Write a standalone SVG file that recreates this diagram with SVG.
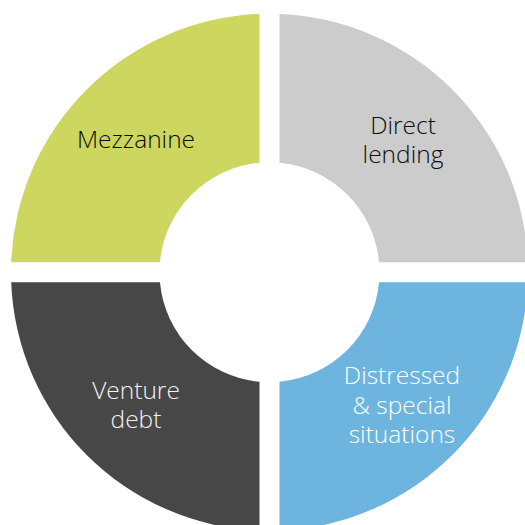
<svg xmlns="http://www.w3.org/2000/svg" width="525" height="525" viewBox="0 0 525 525">
  <style>
    .lbl { font-family: "Open Sans", "Noto Sans", "Liberation Sans", sans-serif; font-size: 24.5px; font-weight: 300; text-anchor: middle; }
    .dark { fill: #0d0d0d; }
    .light { fill: #f2f2f2; }
    .white { fill: #ffffff; }
  </style>
  <rect width="525" height="525" fill="#ffffff"/>
  <!-- Donut split into four quarters by 20px cross gaps; centre (269.5, 272.25), R 258.5, r 110 -->
  <g id="mezzanine">
    <path d="M259.5 13.94 A258.5 258.5 0 0 0 11.19 262.25 L159.96 262.25 A110 110 0 0 1 259.5 162.71 Z" fill="#cdd65f"/>
    <text class="lbl dark" x="136" y="148">Mezzanine</text>
  </g>
  <g id="direct-lending">
    <path d="M279.5 13.94 A258.5 258.5 0 0 1 527.81 262.25 L379.04 262.25 A110 110 0 0 0 279.5 162.71 Z" fill="#cccccc"/>
    <text class="lbl dark" x="403" y="134">Direct<tspan x="403" dy="29">lending</tspan></text>
  </g>
  <g id="venture-debt">
    <path d="M259.5 530.56 A258.5 258.5 0 0 1 11.19 282.25 L159.96 282.25 A110 110 0 0 0 259.5 381.79 Z" fill="#474747"/>
    <text class="lbl light" x="136" y="399">Venture<tspan x="136" dy="29">debt</tspan></text>
  </g>
  <g id="distressed">
    <path d="M279.5 530.56 A258.5 258.5 0 0 0 527.81 282.25 L379.04 282.25 A110 110 0 0 1 279.5 381.79 Z" fill="#6db5de"/>
    <text class="lbl white" x="402" y="384">Distressed<tspan x="402" dy="29.5">&amp; special</tspan><tspan x="402" dy="29.5">situations</tspan></text>
  </g>
  <g id="connectors"/>
</svg>
